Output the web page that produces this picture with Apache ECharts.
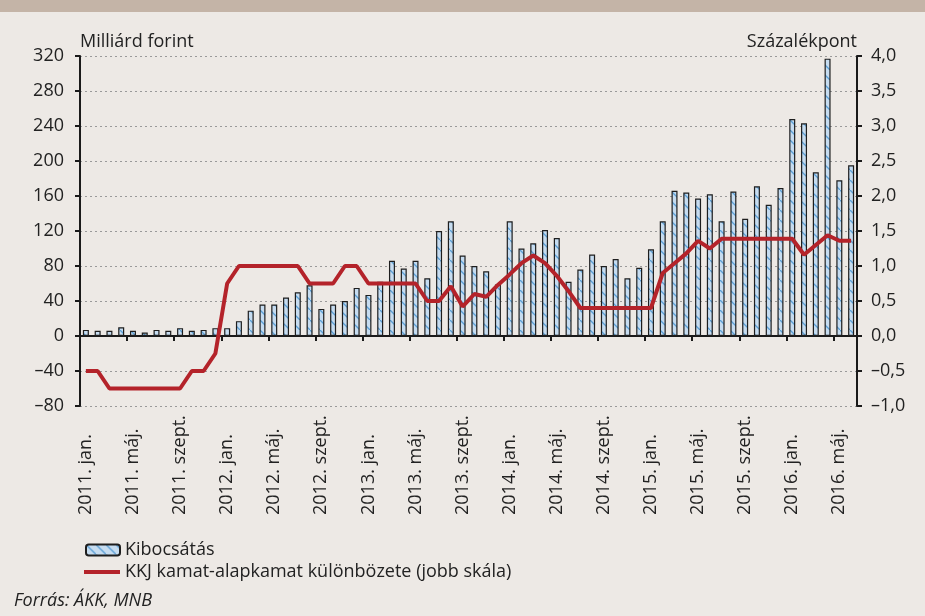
<!DOCTYPE html>
<html>
<head>
<meta charset="utf-8">
<script src="https://cdn.jsdelivr.net/npm/echarts@6/dist/echarts.min.js"></script>
<style>
  html, body { margin: 0; padding: 0; background: #ede9e5; }
  #band { position: absolute; left: 0; top: 0; width: 925px; height: 12px; background: #c4b4a7; }
  #chart { width: 925px; height: 616px; }
</style>
</head>
<body>
<div id="chart"></div>
<div id="band"></div>
<script>
// havi adatok 2011. jan. - 2016. jún.
const years = [2011, 2012, 2013, 2014, 2015, 2016]
const monthNames = ['jan.', 'febr.', 'márc.', 'ápr.', 'máj.', 'jún.', 'júl.', 'aug.', 'szept.', 'okt.', 'nov.', 'dec.']
const categories = []
years.forEach(y => monthNames.forEach(m => categories.push(y + '. ' + m)))
categories.length = 66

// Kibocsátás (milliárd forint)
const issuance = [
  7, 6, 6, 10, 6, 4, 7, 6, 9, 6, 7, 9,
  9, 17, 29, 36, 36, 44, 50, 58, 31, 36, 40, 55,
  47, 62, 86, 77, 86, 66, 120, 131, 92, 80, 74, 59,
  131, 100, 106, 121, 112, 62, 76, 93, 80, 88, 66, 78,
  99, 131, 166, 164, 157, 162, 131, 165, 134, 171, 150, 169,
  248, 243, 187, 317, 178, 195
]
// KKJ kamat-alapkamat különbözete (százalékpont, jobb skála)
const spread = [
  -0.5, -0.5, -0.75, -0.75, -0.75, -0.75, -0.75, -0.75, -0.75, -0.5, -0.5, -0.25,
  0.75, 1.0, 1.0, 1.0, 1.0, 1.0, 1.0, 0.75, 0.75, 0.75, 1.0, 1.0,
  0.75, 0.75, 0.75, 0.75, 0.75, 0.5, 0.5, 0.71, 0.42, 0.6, 0.56, 0.73,
  0.88, 1.04, 1.15, 1.04, 0.86, 0.64, 0.4, 0.4, 0.4, 0.4, 0.4, 0.4,
  0.4, 0.9, 1.04, 1.18, 1.36, 1.25, 1.39, 1.39, 1.39, 1.39, 1.39, 1.39,
  1.39, 1.16, 1.3, 1.44, 1.36, 1.36
]

const leftMin = -80, leftMax = 320, leftStep = 40
const rightMin = -1, rightMax = 4, rightStep = 0.5
const barName = 'Kibocsátás'
const lineName = 'KKJ kamat-alapkamat különbözete (jobb skála)'

// sraffozott kitöltés
const makeHatch = () => {
  const c = document.createElement('canvas')
  c.width = 10
  c.height = 10
  const ctx = c.getContext('2d')
  ctx.fillStyle = '#c6dcf0'
  ctx.fillRect(0, 0, 10, 10)
  ctx.strokeStyle = '#5b9fd6'
  ctx.lineWidth = 1.3
  ctx.beginPath()
  ctx.moveTo(-1, -1)
  ctx.lineTo(11, 11)
  ctx.stroke()
  return c
}

const font = '"Open Sans", sans-serif'
const fmt = (v, d) => (d ? v.toFixed(d).replace('.', ',') : String(v)).replace('-', '–')
const legendText = { fontSize: 18, color: '#222', fontFamily: font }

const chart = echarts.init(document.getElementById('chart'))
const options = {
  backgroundColor: '#ede9e5',
  animation: false,
  textStyle: { fontFamily: font },
  grid: { left: 80, right: 68, top: 56, bottom: 210 },
  legend: [
    {
      left: 80,
      top: 536,
      itemWidth: 34,
      itemHeight: 11,
      textStyle: legendText,
      data: [barName]
    },
    {
      left: 79,
      top: 558,
      itemWidth: 36,
      itemHeight: 4,
      textStyle: legendText,
      data: [{ name: lineName, icon: 'rect' }]
    }
  ],
  xAxis: [
    {
      type: 'category',
      data: categories,
      axisLine: { onZero: true, onZeroAxisIndex: 0, lineStyle: { color: '#1a1a1a', width: 2 } },
      axisTick: { show: true, interval: 3, length: 5, lineStyle: { color: '#1a1a1a', width: 2 } },
      axisLabel: { show: false },
      splitLine: { show: false }
    },
    {
      type: 'category',
      data: categories,
      position: 'bottom',
      axisLine: { show: false, onZero: false },
      axisTick: { show: false },
      axisLabel: {
        interval: 3,
        rotate: 90,
        align: 'left',
        margin: 109,
        padding: [0, 0, 12, 0],
        fontSize: 18,
        color: '#222',
        fontFamily: font
      },
      splitLine: { show: false }
    }
  ],
  yAxis: [
    {
      type: 'value',
      min: leftMin,
      max: leftMax,
      interval: leftStep,
      name: 'Milliárd forint',
      nameLocation: 'end',
      nameGap: 5,
      nameTextStyle: { align: 'left', fontSize: 18, color: '#222', fontFamily: font },
      axisLine: { show: true, lineStyle: { color: '#1a1a1a', width: 2 } },
      axisTick: { show: true, length: 5, lineStyle: { color: '#1a1a1a', width: 2 } },
      axisLabel: { margin: 16, fontSize: 18, color: '#222', fontFamily: font, formatter: v => fmt(v, 0) },
      splitLine: { lineStyle: { type: [2, 3], color: '#9a9a9a', width: 1 } }
    },
    {
      type: 'value',
      min: rightMin,
      max: rightMax,
      interval: rightStep,
      position: 'right',
      name: 'Százalékpont',
      nameLocation: 'end',
      nameGap: 5,
      nameTextStyle: { align: 'right', fontSize: 18, color: '#222', fontFamily: font },
      axisLine: { show: true, lineStyle: { color: '#1a1a1a', width: 2 } },
      axisTick: { show: true, length: 5, lineStyle: { color: '#1a1a1a', width: 2 } },
      axisLabel: { margin: 14, fontSize: 18, color: '#222', fontFamily: font, formatter: v => fmt(v, 1) },
      splitLine: { show: false }
    }
  ],
  series: [
    {
      name: barName,
      type: 'bar',
      xAxisIndex: 0,
      yAxisIndex: 0,
      data: issuance,
      barWidth: 6,
      itemStyle: {
        color: { image: makeHatch(), repeat: 'repeat' },
        borderColor: '#1e1e1e',
        borderWidth: 1.2
      }
    },
    {
      name: lineName,
      type: 'line',
      xAxisIndex: 0,
      yAxisIndex: 1,
      data: spread,
      symbol: 'none',
      z: 5,
      lineStyle: { color: '#b4232a', width: 4 },
      itemStyle: { color: '#b4232a' }
    }
  ],
  graphic: [
    {
      type: 'text',
      left: 14,
      top: 592,
      style: { text: 'Forrás: ÁKK, MNB', font: 'italic 18px "Open Sans", sans-serif', fill: '#222' }
    }
  ]
}
chart.setOption(options)
</script>
</body>
</html>
